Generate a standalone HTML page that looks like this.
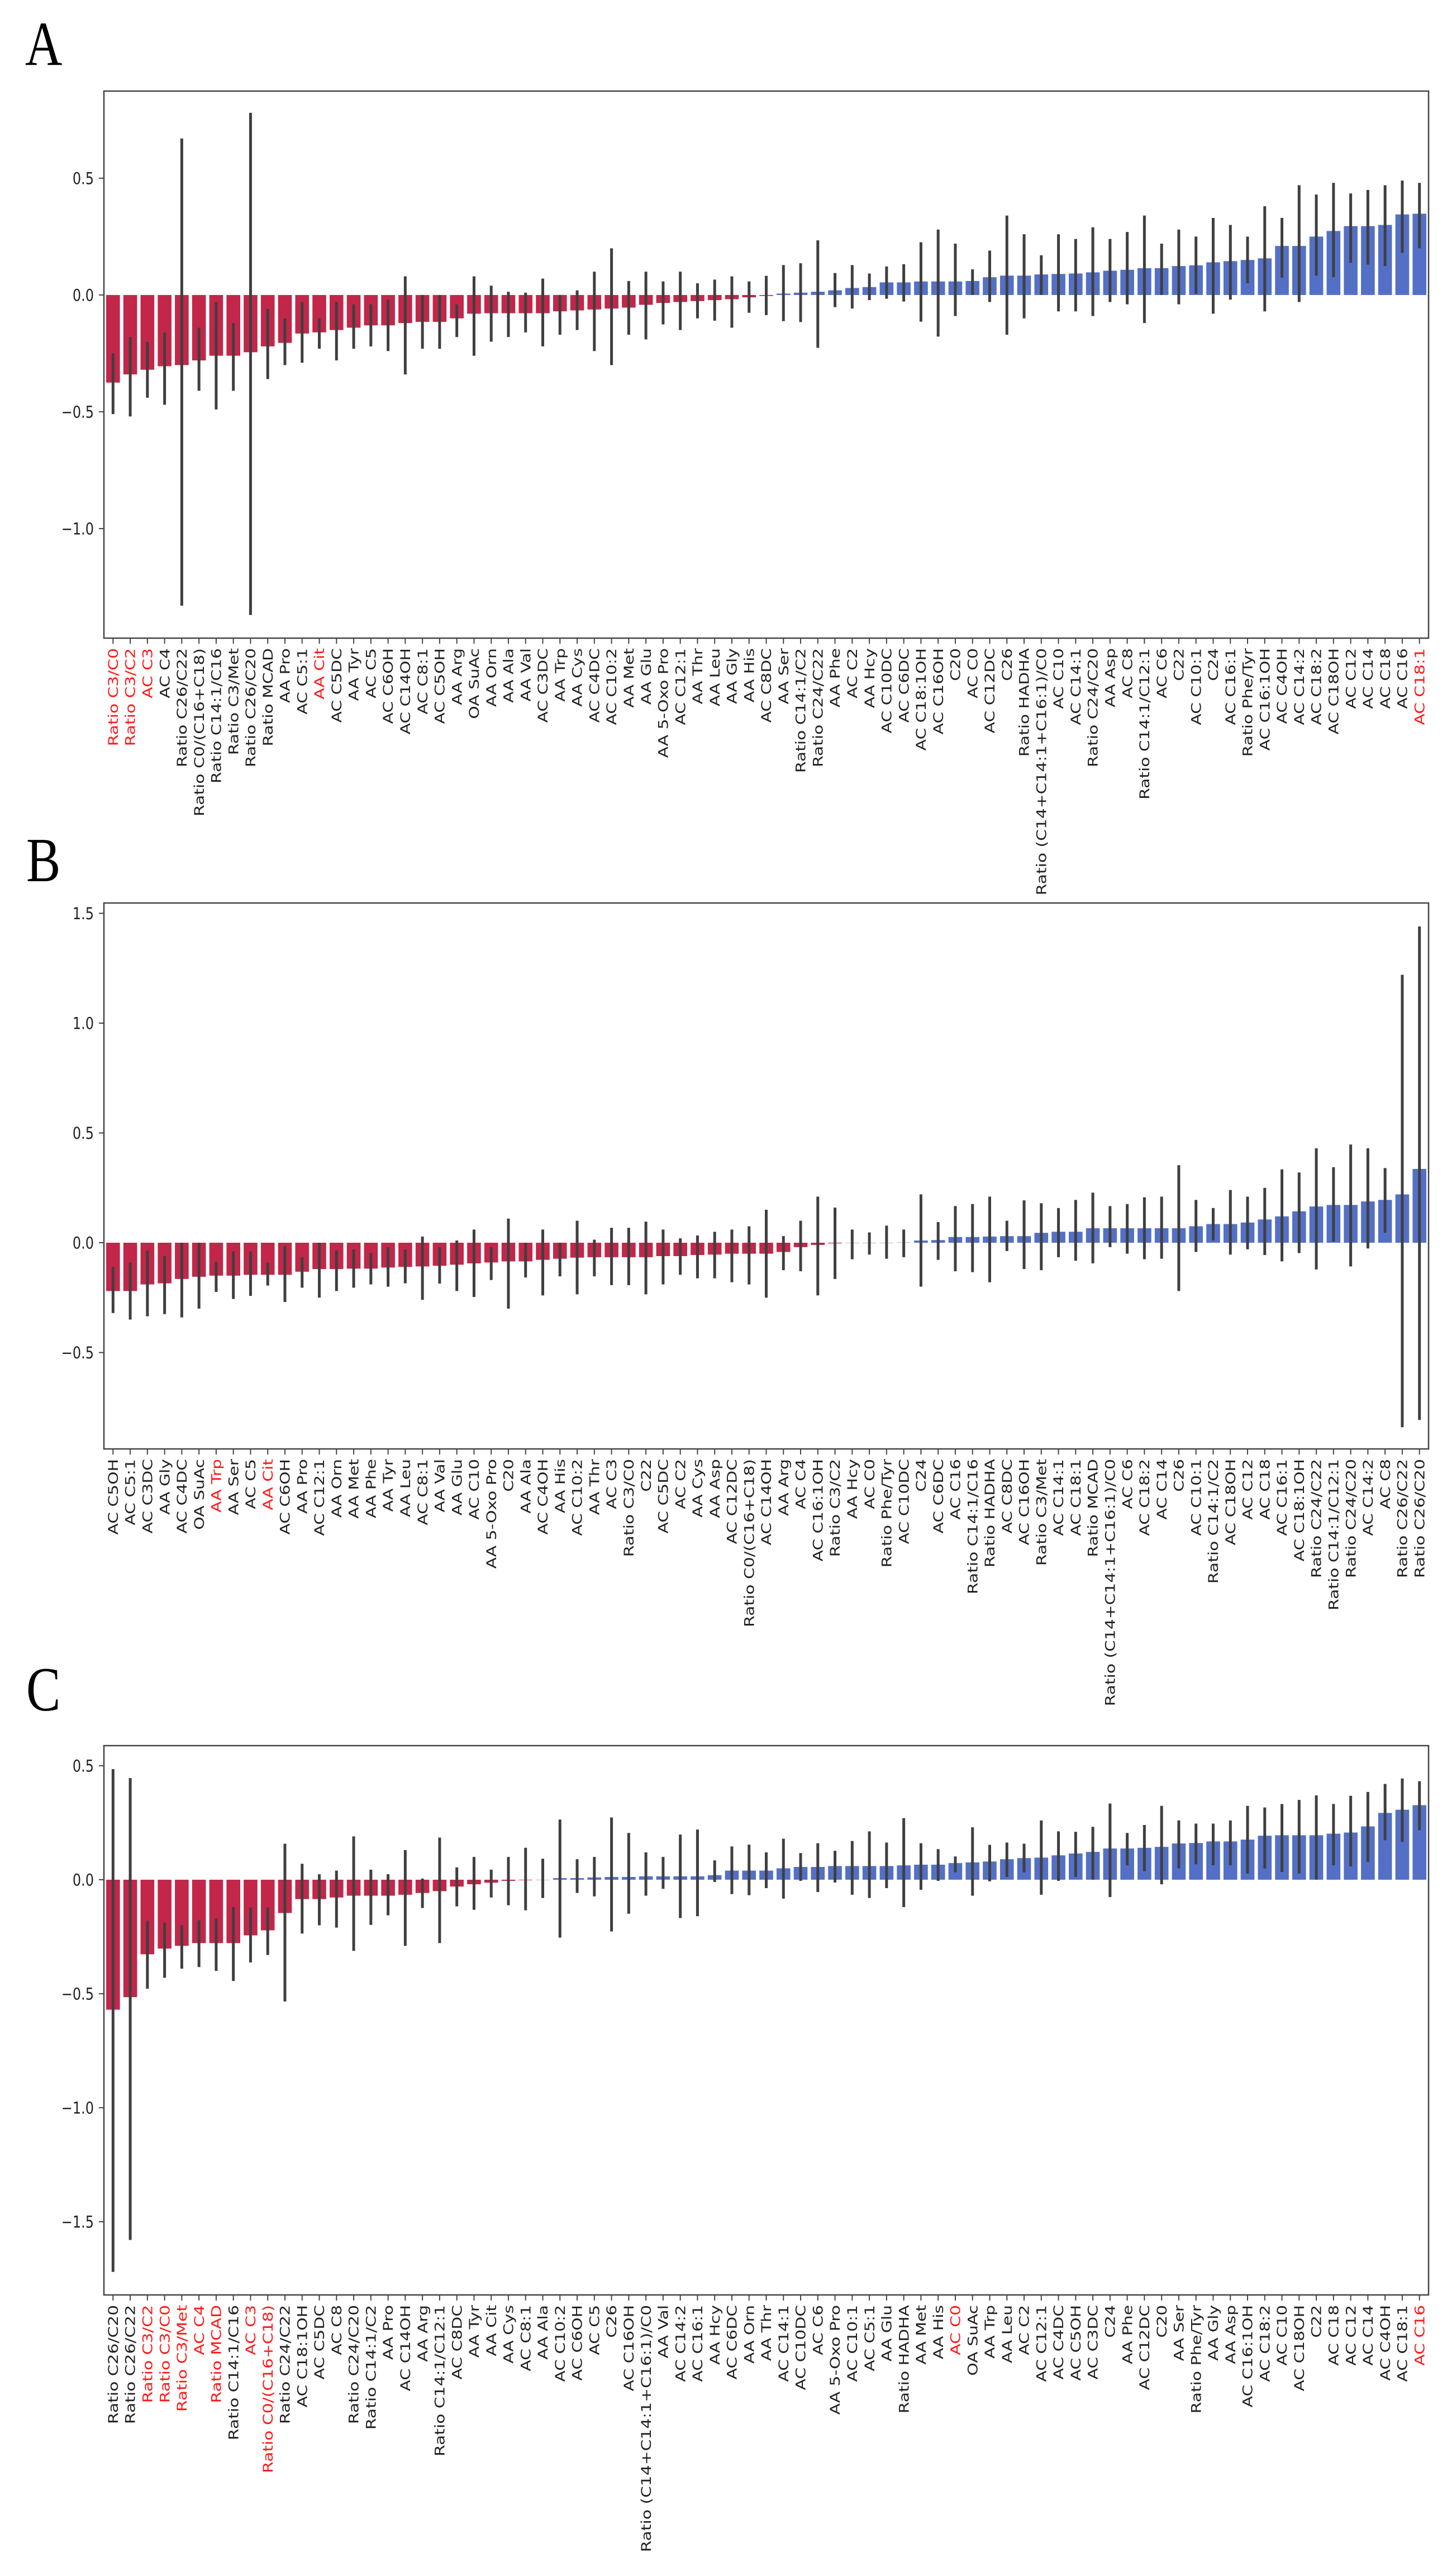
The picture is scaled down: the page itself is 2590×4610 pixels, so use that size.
<!DOCTYPE html>
<html><head><meta charset="utf-8"><style>
html,body{margin:0;padding:0;background:#fff;}
svg{display:block;}
</style></head><body>
<svg id="fig" xmlns="http://www.w3.org/2000/svg" width="2590" height="4610" viewBox="0 0 2590 4610">
<rect x="0" y="0" width="2590" height="4610" fill="#fff"/>
<text x="45" y="116" font-family="Liberation Serif, serif" font-size="92" transform="translate(0,116) scale(1,1.22) translate(0,-116)">A</text>
<text x="47" y="1577" font-family="Liberation Serif, serif" font-size="92" transform="translate(0,1577) scale(1,1.22) translate(0,-1577)">B</text>
<text x="47" y="3061" font-family="Liberation Serif, serif" font-size="92" transform="translate(0,3061) scale(1,1.22) translate(0,-3061)">C</text>
</svg>
<script>
// ---------- Panel A data ----------
const aLabels = ["Ratio C3/C0","Ratio C3/C2","AC C3","AC C4","Ratio C26/C22","Ratio C0/(C16+C18)","Ratio C14:1/C16","Ratio C3/Met","Ratio C26/C20","Ratio MCAD","AA Pro","AC C5:1","AA Cit","AC C5DC","AA Tyr","AC C5","AC C6OH","AC C14OH","AC C8:1","AC C5OH","AA Arg","OA SuAc","AA Orn","AA Ala","AA Val","AC C3DC","AA Trp","AA Cys","AC C4DC","AC C10:2","AA Met","AA Glu","AA 5-Oxo Pro","AC C12:1","AA Thr","AA Leu","AA Gly","AA His","AC C8DC","AA Ser","Ratio C14:1/C2","Ratio C24/C22","AA Phe","AC C2","AA Hcy","AC C10DC","AC C6DC","AC C18:1OH","AC C16OH","C20","AC C0","AC C12DC","C26","Ratio HADHA","Ratio (C14+C14:1+C16:1)/C0","AC C10","AC C14:1","Ratio C24/C20","AA Asp","AC C8","Ratio C14:1/C12:1","AC C6","C22","AC C10:1","C24","AC C16:1","Ratio Phe/Tyr","AC C16:1OH","AC C4OH","AC C14:2","AC C18:2","AC C18OH","AC C12","AC C14","AC C18","AC C16","AC C18:1"];
const aValues = [-0.375,-0.34,-0.32,-0.305,-0.30,-0.28,-0.26,-0.26,-0.245,-0.22,-0.205,-0.165,-0.16,-0.15,-0.14,-0.13,-0.13,-0.12,-0.115,-0.115,-0.10,-0.08,-0.078,-0.078,-0.078,-0.078,-0.07,-0.066,-0.062,-0.058,-0.054,-0.042,-0.034,-0.03,-0.026,-0.022,-0.018,-0.01,-0.004,0.006,0.01,0.014,0.02,0.03,0.034,0.054,0.054,0.058,0.058,0.058,0.06,0.076,0.083,0.083,0.088,0.09,0.092,0.097,0.104,0.108,0.115,0.115,0.124,0.127,0.14,0.145,0.15,0.157,0.21,0.21,0.25,0.274,0.295,0.295,0.30,0.345,0.348];
const aLow = [-0.51,-0.52,-0.44,-0.47,-1.33,-0.41,-0.49,-0.41,-1.37,-0.36,-0.30,-0.29,-0.23,-0.28,-0.23,-0.22,-0.24,-0.34,-0.23,-0.23,-0.18,-0.26,-0.20,-0.18,-0.16,-0.22,-0.17,-0.15,-0.24,-0.30,-0.17,-0.19,-0.126,-0.15,-0.10,-0.11,-0.14,-0.076,-0.086,-0.112,-0.116,-0.226,-0.052,-0.058,-0.022,-0.016,-0.028,-0.114,-0.178,-0.09,0.0,-0.03,-0.17,-0.10,0.0,-0.07,-0.07,-0.09,-0.03,-0.04,-0.12,0.0,-0.04,0.005,-0.08,-0.02,0.05,-0.07,0.074,-0.03,0.083,0.076,0.138,0.13,0.124,0.18,0.20];
const aHigh = [-0.25,-0.18,-0.20,-0.16,0.67,-0.14,-0.03,-0.12,0.78,-0.06,-0.10,-0.03,-0.10,-0.03,-0.04,-0.04,-0.02,0.08,0.0,0.0,-0.04,0.08,0.04,0.014,0.01,0.07,0.0,0.02,0.10,0.20,0.06,0.10,0.058,0.10,0.05,0.066,0.08,0.058,0.082,0.128,0.136,0.234,0.094,0.128,0.092,0.122,0.132,0.226,0.28,0.22,0.11,0.19,0.34,0.26,0.17,0.26,0.24,0.29,0.24,0.27,0.34,0.22,0.28,0.25,0.33,0.30,0.25,0.38,0.33,0.47,0.43,0.48,0.435,0.45,0.47,0.49,0.48];
const aHighlight = ["Ratio C3/C0","Ratio C3/C2","AC C3","AA Cit","AC C18:1"];
const aTicks = [0.5,0.0,-0.5,-1.0];
const aTickLabels = ["0.5","0.0","\u22120.5","\u22121.0"];

// ---------- Panel B data ----------
const bLabels = ["AC C5OH","AC C5:1","AC C3DC","AA Gly","AC C4DC","OA SuAc","AA Trp","AA Ser","AC C5","AA Cit","AC C6OH","AA Pro","AC C12:1","AA Orn","AA Met","AA Phe","AA Tyr","AA Leu","AC C8:1","AA Val","AA Glu","AC C10","AA 5-Oxo Pro","C20","AA Ala","AC C4OH","AA His","AC C10:2","AA Thr","AC C3","Ratio C3/C0","C22","AC C5DC","AC C2","AA Cys","AA Asp","AC C12DC","Ratio C0/(C16+C18)","AC C14OH","AA Arg","AC C4","AC C16:1OH","Ratio C3/C2","AA Hcy","AC C0","Ratio Phe/Tyr","AC C10DC","C24","AC C6DC","AC C16","Ratio C14:1/C16","Ratio HADHA","AC C8DC","AC C16OH","Ratio C3/Met","AC C14:1","AC C18:1","Ratio MCAD","Ratio (C14+C14:1+C16:1)/C0","AC C6","AC C18:2","AC C14","C26","AC C10:1","Ratio C14:1/C2","AC C18OH","AC C12","AC C18","AC C16:1","AC C18:1OH","Ratio C24/C22","Ratio C14:1/C12:1","Ratio C24/C20","AC C14:2","AC C8","Ratio C26/C22","Ratio C26/C20"];
const bValues = [-0.22,-0.22,-0.19,-0.185,-0.165,-0.155,-0.15,-0.15,-0.146,-0.146,-0.146,-0.132,-0.12,-0.12,-0.118,-0.118,-0.113,-0.11,-0.108,-0.105,-0.10,-0.094,-0.09,-0.085,-0.085,-0.078,-0.073,-0.068,-0.066,-0.066,-0.066,-0.066,-0.061,-0.061,-0.056,-0.054,-0.05,-0.05,-0.05,-0.042,-0.02,-0.01,-0.003,0.0,0.0,0.0,0.001,0.01,0.012,0.026,0.026,0.028,0.03,0.03,0.045,0.05,0.05,0.066,0.066,0.066,0.066,0.066,0.066,0.075,0.085,0.085,0.092,0.106,0.12,0.143,0.165,0.172,0.172,0.188,0.195,0.22,0.336];
const bLow = [-0.32,-0.35,-0.335,-0.325,-0.34,-0.30,-0.224,-0.256,-0.242,-0.195,-0.27,-0.205,-0.25,-0.22,-0.205,-0.19,-0.20,-0.185,-0.26,-0.186,-0.22,-0.247,-0.17,-0.30,-0.158,-0.24,-0.153,-0.235,-0.153,-0.193,-0.193,-0.235,-0.19,-0.146,-0.162,-0.162,-0.18,-0.19,-0.25,-0.125,-0.13,-0.24,-0.165,-0.075,-0.054,-0.073,-0.066,-0.20,-0.078,-0.13,-0.134,-0.18,-0.038,-0.12,-0.125,-0.066,-0.082,-0.094,-0.02,-0.05,-0.075,-0.073,-0.22,-0.042,0.01,-0.054,-0.03,-0.056,-0.085,-0.047,-0.122,0.005,-0.108,-0.026,0.045,-0.84,-0.807];
const bHigh = [-0.11,-0.09,-0.035,-0.06,0.0,0.0,-0.087,-0.04,-0.04,-0.09,-0.014,-0.066,0.0,-0.035,-0.03,-0.047,-0.02,-0.03,0.028,-0.02,0.01,0.06,-0.02,0.11,0.0,0.06,0.0,0.10,0.014,0.068,0.068,0.096,0.06,0.02,0.033,0.05,0.06,0.075,0.15,0.03,0.10,0.21,0.16,0.06,0.047,0.078,0.06,0.22,0.094,0.167,0.176,0.21,0.10,0.193,0.18,0.158,0.195,0.228,0.167,0.176,0.207,0.21,0.353,0.195,0.158,0.24,0.21,0.25,0.334,0.32,0.43,0.344,0.447,0.43,0.34,1.22,1.44];
const bHighlight = ["AA Trp","AA Cit"];
const bTicks = [1.5,1.0,0.5,0.0,-0.5];
const bTickLabels = ["1.5","1.0","0.5","0.0","\u22120.5"];

// ---------- Panel C data ----------
const cLabels = ["Ratio C26/C20","Ratio C26/C22","Ratio C3/C2","Ratio C3/C0","Ratio C3/Met","AC C4","Ratio MCAD","Ratio C14:1/C16","AC C3","Ratio C0/(C16+C18)","Ratio C24/C22","AC C18:1OH","AC C5DC","AC C8","Ratio C24/C20","Ratio C14:1/C2","AA Pro","AC C14OH","AA Arg","Ratio C14:1/C12:1","AC C8DC","AA Tyr","AA Cit","AA Cys","AC C8:1","AA Ala","AC C10:2","AC C6OH","AC C5","C26","AC C16OH","Ratio (C14+C14:1+C16:1)/C0","AA Val","AC C14:2","AC C16:1","AA Hcy","AC C6DC","AA Orn","AA Thr","AC C14:1","AC C10DC","AC C6","AA 5-Oxo Pro","AC C10:1","AC C5:1","AA Glu","Ratio HADHA","AA Met","AA His","AC C0","OA SuAc","AA Trp","AA Leu","AC C2","AC C12:1","AC C4DC","AC C5OH","AC C3DC","C24","AA Phe","AC C12DC","C20","AA Ser","Ratio Phe/Tyr","AA Gly","AA Asp","AC C16:1OH","AC C18:2","AC C10","AC C18OH","C22","AC C18","AC C12","AC C14","AC C4OH","AC C18:1","AC C16"];
const cValues = [-0.57,-0.515,-0.327,-0.302,-0.29,-0.278,-0.278,-0.278,-0.244,-0.222,-0.146,-0.085,-0.085,-0.078,-0.07,-0.07,-0.07,-0.066,-0.058,-0.05,-0.03,-0.02,-0.013,-0.005,-0.002,0.0,0.007,0.007,0.01,0.012,0.012,0.015,0.015,0.015,0.015,0.02,0.04,0.04,0.04,0.05,0.056,0.056,0.06,0.06,0.06,0.06,0.063,0.066,0.066,0.073,0.076,0.08,0.09,0.095,0.097,0.107,0.115,0.122,0.137,0.137,0.14,0.144,0.159,0.161,0.168,0.168,0.176,0.193,0.195,0.195,0.195,0.202,0.207,0.234,0.293,0.307,0.327];
const cLow = [-1.72,-1.58,-0.478,-0.43,-0.39,-0.383,-0.40,-0.444,-0.363,-0.33,-0.534,-0.236,-0.20,-0.21,-0.312,-0.198,-0.156,-0.29,-0.124,-0.278,-0.117,-0.132,-0.078,-0.112,-0.134,-0.08,-0.254,-0.058,-0.073,-0.227,-0.149,-0.07,-0.04,-0.168,-0.16,-0.01,-0.063,-0.068,-0.037,-0.083,-0.005,-0.054,-0.012,-0.066,-0.08,-0.037,-0.12,-0.044,-0.005,0.032,-0.07,-0.007,0.012,0.032,-0.066,-0.005,0.012,0.0,-0.076,0.063,0.037,-0.02,0.05,0.068,0.063,0.063,0.027,0.049,0.034,0.027,0.0,0.063,0.058,0.078,0.173,0.166,0.217];
const cHigh = [0.485,0.446,-0.18,-0.188,-0.20,-0.178,-0.17,-0.12,-0.122,-0.122,0.158,0.07,0.024,0.04,0.19,0.044,0.024,0.13,0.005,0.185,0.054,0.10,0.044,0.10,0.14,0.092,0.264,0.09,0.10,0.273,0.205,0.12,0.10,0.198,0.22,0.085,0.146,0.154,0.12,0.18,0.117,0.16,0.127,0.17,0.212,0.163,0.27,0.16,0.134,0.102,0.23,0.153,0.163,0.158,0.26,0.212,0.21,0.232,0.334,0.205,0.24,0.324,0.26,0.246,0.246,0.26,0.324,0.317,0.332,0.35,0.37,0.332,0.368,0.385,0.42,0.444,0.432];
const cHighlight = ["Ratio C3/C2","Ratio C3/C0","Ratio C3/Met","AC C4","Ratio MCAD","AC C3","Ratio C0/(C16+C18)","AC C0","AC C16"];
const cTicks = [0.5,0.0,-0.5,-1.0,-1.5];
const cTickLabels = ["0.5","0.0","\u22120.5","\u22121.0","\u22121.5"];

const NS = "http://www.w3.org/2000/svg";
const svg = document.getElementById("fig");
function mk(tag, attrs, parent) {
  const e = document.createElementNS(NS, tag);
  for (const k in attrs) e.setAttribute(k, attrs[k]);
  (parent || svg).appendChild(e);
  return e;
}

function drawPanel(key, labels, values, low, high, highlight, ticks, tickLabels, box) {
  const g = mk("g", {});
  
  
  const n = labels.length;
  const x0 = -0.53, x1 = n - 1 + 0.53;
  const xs = v => box.left + (v - x0) / (x1 - x0) * (box.right - box.left);
  const ys = v => box.top + (box.ymax - v) / (box.ymax - box.ymin) * (box.bottom - box.top);
  const band = (box.right - box.left) / (x1 - x0);
  const bw = band * 0.8;
  // bars
  for (let i = 0; i < n; i++) {
    const v = values[i];
    const yTop = ys(Math.max(v, 0)), yBot = ys(Math.min(v, 0));
    const r = mk("rect", {x: xs(i) - bw / 2, y: yTop, width: bw, height: Math.max(yBot - yTop, 0.5), fill: v < 0 ? "#c2274a" : "#5470c6"}, g);
    
    
  }
  // error bars
  for (let i = 0; i < n; i++) {
    const l = mk("line", {x1: xs(i), x2: xs(i), y1: ys(high[i]), y2: ys(low[i]), stroke: "#3f3f3f", "stroke-width": 5}, g);
    
    
  }
  // frame
  const fr = mk("rect", {x: box.left, y: box.top, width: box.right - box.left, height: box.bottom - box.top, fill: "none", stroke: "#444", "stroke-width": 2.5}, g);
  
  
  // y ticks
  for (let j = 0; j < ticks.length; j++) {
    const y = ys(ticks[j]);
    const t = mk("line", {x1: box.left - 9, x2: box.left, y1: y, y2: y, stroke: "#444", "stroke-width": 2}, g);
    
    
    const tx = mk("text", {x: 0, y: 0, "text-anchor": "end", "font-family": "DejaVu Sans, sans-serif", "font-size": 24, fill: "#222", dy: "0.36em", transform: "translate(" + (box.left - 18) + "," + y + ") scale(1,1.22)"}, g);
    tx.textContent = tickLabels[j];
    
    
  }
  // x ticks + labels
  for (let i = 0; i < n; i++) {
    const x = xs(i);
    const t = mk("line", {x1: x, x2: x, y1: box.bottom, y2: box.bottom + 10, stroke: "#444", "stroke-width": 2}, g);
    
    
    const tx = mk("text", {x: 0, y: 0, "text-anchor": "end", "font-family": "DejaVu Sans, sans-serif", "font-size": 24, dy: "0.36em", fill: highlight.indexOf(labels[i]) >= 0 ? "#ff1a1a" : "#222", transform: "translate(" + x + "," + (box.bottom + 18) + ") rotate(-90) scale(1.24,1)"}, g);
    tx.textContent = labels[i];
    
    
  }
}

drawPanel("a", aLabels, aValues, aLow, aHigh, aHighlight, aTicks, aTickLabels,
  {left: 186, right: 2557, top: 163, bottom: 1142, ymin: -1.469, ymax: 0.873});
drawPanel("b", bLabels, bValues, bLow, bHigh, bHighlight, bTicks, bTickLabels,
  {left: 186, right: 2557, top: 1616, bottom: 2593, ymin: -0.939, ymax: 1.547});
drawPanel("c", cLabels, cValues, cLow, cHigh, cHighlight, cTicks, cTickLabels,
  {left: 186, right: 2557, top: 3124, bottom: 4107, ymin: -1.821, ymax: 0.588});
</script>
</body></html>
